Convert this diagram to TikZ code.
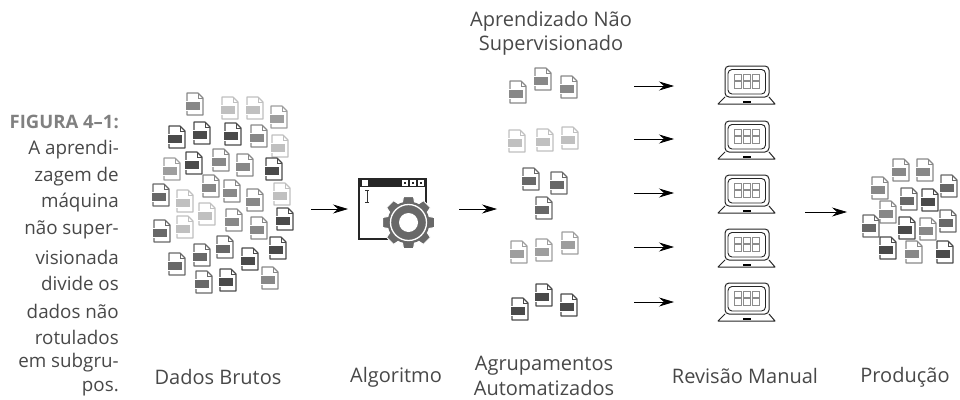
\documentclass[tikz,border=0pt]{standalone}
\usepackage{fontspec}
\setmainfont{Open Sans}
\usepackage{xcolor}
\usetikzlibrary{arrows.meta}
\definecolor{docA}{HTML}{4A4A4A}
\definecolor{docB}{HTML}{686868}
\definecolor{docC}{HTML}{888888}
\definecolor{docD}{HTML}{9E9E9E}
\definecolor{docE}{HTML}{C0C0C0}
\definecolor{inkgray}{HTML}{484848}
\tikzset{
  docicon/.pic={
    \draw [#1, line width=1.1pt, fill=white, line join=round] (-8, -11) -- (3, -11) -- (8, -6) -- (8, 11) -- (-8, 11) -- cycle;
    \draw [#1, line width=0.7pt] (3, -11) -- (3, -6) -- (8, -6);
    \filldraw [draw=white, fill=#1, line width=0.5pt] (-10, -2.5) rectangle (5, 6.5);
  },
  laptop/.pic={
    \draw [black!85, line width=1pt, rounded corners=4pt, fill=white] (-22, 0) rectangle (22, 31);
    \draw [black!85, line width=0.9pt, rounded corners=4pt] (-19, 3.5) rectangle (18.5, 28);
    \foreach \col in {-13, -4, 5} \foreach \row in {8, 15.5}
      \draw [black!45, line width=0.7pt] (\col, \row) rectangle ++(7, 6.5);
    \draw [black!85, line width=1pt, line join=round] (-22, 31) -- (-29, 38) -- (28, 38) -- (22, 31);
    \draw [black, line width=1.4pt] (-4, 36) -- (4, 36);
  },
  flow/.style={line width=0.8pt, -{Stealth[length=15pt, width=9pt, inset=5pt]}},
  label/.style={font=\fontsize{20}{24.5}\selectfont, text=inkgray, align=center, inner sep=0pt},
}
\begin{document}
\begin{tikzpicture}[x=1pt, y=-1pt]
\useasboundingbox (0, 0) rectangle (960, 399);

\node [anchor=east, inner sep=0pt, text=black!50, font=\fontsize{18.5}{22}\selectfont\bfseries] (figtag) at (119, 122) {FIGURA 4--1:};
\foreach \n/\t/\y in {a/A aprendi-/150, b/zagem de/177, c/máquina/203, d/não super-/230, e/visionada/257, f/divide os/283, g/dados não/311, h/rotulados/337, i/em subgru-/363, j/pos./389}
  \node [anchor=east, inner sep=0pt, text=inkgray, font=\fontsize{18.8}{25}\selectfont] (cap\n) at (119, \y) {\t};

% raw data
\foreach \x/\y/\c in {195/104/docC, 230/108/docE, 255/108/docE, 279/117/docD,
  177/137/docA, 202/133/docA, 233/134/docA, 259/136/docC, 280/146/docE,
  172/169/docD, 194/163/docA, 221/160/docC, 245/165/docC, 274/169/docA,
  161/195/docB, 185/201/docE, 211/186/docC, 232/191/docC, 255/200/docC, 282/194/docE,
  207/214/docE, 185/227/docE, 234/220/docC, 259/228/docC, 285/219/docA, 162/231/docB,
  177/264/docB, 202/255/docB, 225/247/docB, 250/259/docA, 278/248/docA,
  204/282/docB, 228/280/docA, 270/278/docC}
  \pic at (\x, \y) {docicon=\c};

% algorithm window
\draw [black!85, line width=1.8pt, fill=white] (359, 179) rectangle (426, 239);
\fill [black!85] (358, 178) rectangle (427, 187);
\fill [white] (362, 180) rectangle (368, 186);
\foreach \x in {402, 410, 418} {
  \fill [white] (\x, 180) rectangle ++(5.5, 5.5);
  \fill [black!85] (\x + 1.5, 182) rectangle ++(2.5, 1.5);
}
\draw [black!80, line width=1pt] (365, 190) -- (369, 190) (365, 202) -- (369, 202) (367, 190) -- (367, 202);
\fill [white] (408.5, 222.5) circle (23.5);
\foreach \a in {0, 45, ..., 315}
  \filldraw [docB, draw=white, line width=1pt, rotate around={\a:(408.5, 222.5)}] (401, 210) -- (403.5, 196.5) -- (413.5, 196.5) -- (416, 210) -- cycle;
\fill [docB] (408.5, 222.5) circle (21);
\draw [white, line width=1.3pt] (408.5, 222.5) circle (18);
\fill [white] (408.5, 222.5) circle (9.5);

% clusters
\foreach \x/\y/\c in {518/92/docC, 543/79/docC, 569/87/docC,
  517/141/docE, 545/140/docE, 570/138/docE,
  531/179/docB, 559/183/docB, 544/208/docB,
  519/252/docD, 544/250/docD, 570/243/docD,
  520/309/docA, 544/295/docA, 569/305/docA}
  \pic at (\x, \y) {docicon=\c};

% review
\foreach \y in {66, 121, 175, 229, 283}
  \pic at (747, \y) {laptop};

% production
\foreach \x/\y/\c in {901/170/docC, 925/170/docC, 949/186/docB, 880/188/docC,
  909/199/docB, 930/200/docA, 888/212/docC, 871/226/docB, 907/228/docA,
  928/229/docC, 948/221/docB, 888/248/docA, 914/252/docC, 945/252/docA}
  \pic at (\x, \y) {docicon=\c};

\coordinate (rawout) at (311, 209);
\coordinate (algoin) at (348, 209);
\coordinate (algoout) at (459, 209);
\coordinate (groupin) at (497, 209);
\coordinate (revout) at (805, 212);
\coordinate (prodin) at (847, 212);
\draw [flow] (rawout) -- (algoin);
\draw [flow] (algoout) -- (groupin);
\draw [flow] (revout) -- (prodin);
\foreach \i/\y in {1/86, 2/139, 3/193, 4/247, 5/302} {
  \coordinate (groupout\i) at (634, \y);
  \coordinate (revin\i) at (674, \y);
  \draw [flow] (groupout\i) -- (revin\i);
}

\node [label] (unsup) at (551, 33.5) {Aprendizado Não\\Supervisionado};
\node [label] (rawlabel) at (218, 377) {Dados Brutos};
\node [label] (algolabel) at (396, 377) {Algoritmo};
\node [label] (grouplabel) at (544, 376) {Agrupamentos\\Automatizados};
\node [label] (revlabel) at (745, 376) {Revisão Manual};
\node [label] (prodlabel) at (905, 377) {Produção};
\end{tikzpicture}
\end{document}
